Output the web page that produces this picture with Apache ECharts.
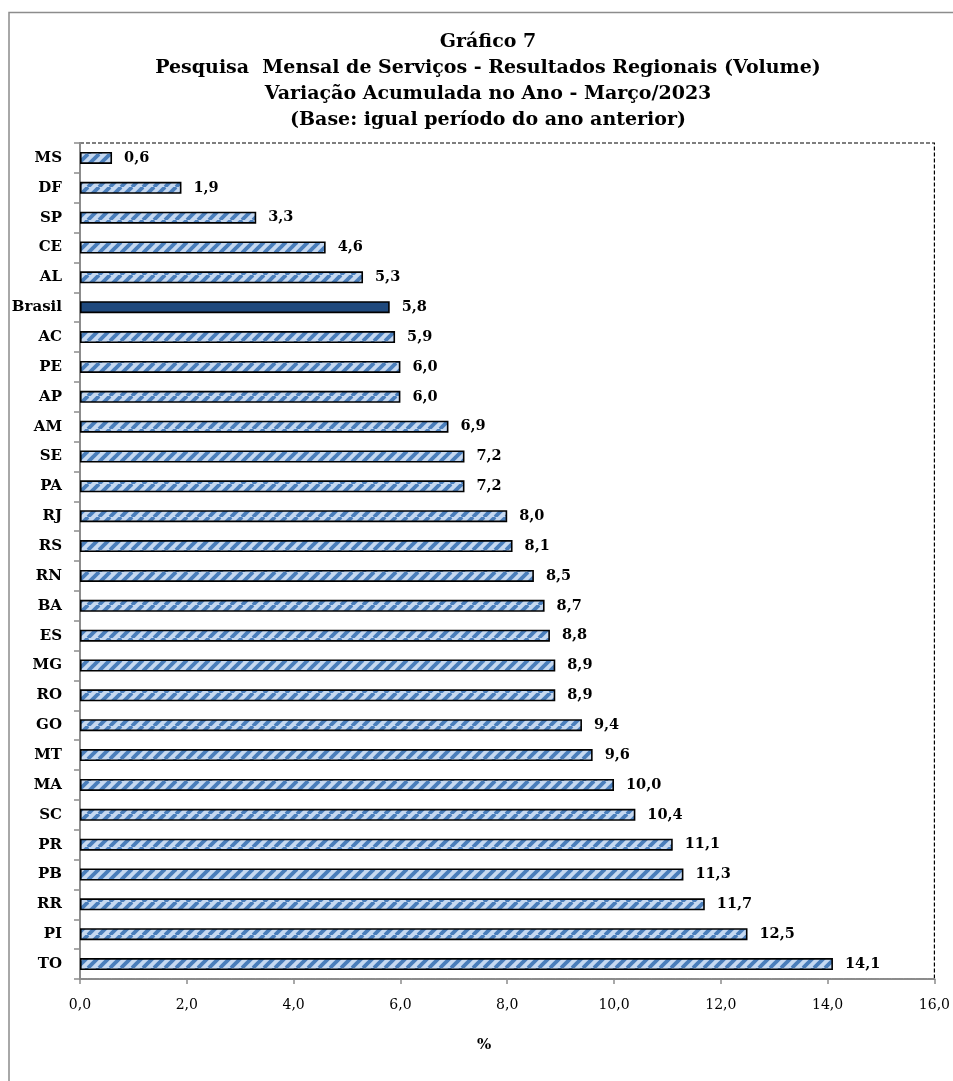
<!DOCTYPE html>
<html>
<head>
<meta charset="utf-8">
<script src="https://cdn.jsdelivr.net/npm/echarts@6/dist/echarts.min.js"></script>
<style>
html,body{margin:0;padding:0;background:#fff;}
#chart{width:953px;height:1081px;}
</style>
</head>
<body>
<div id="chart"></div>
<script>
const categories = ['MS','DF','SP','CE','AL','Brasil','AC','PE','AP','AM','SE','PA','RJ','RS','RN','BA','ES','MG','RO','GO','MT','MA','SC','PR','PB','RR','PI','TO'];
const values = [0.6,1.9,3.3,4.6,5.3,5.8,5.9,6.0,6.0,6.9,7.2,7.2,8.0,8.1,8.5,8.7,8.8,8.9,8.9,9.4,9.6,10.0,10.4,11.1,11.3,11.7,12.5,14.1];
const highlight = 'Brasil';
const titleLines = ['Gráfico 7','Pesquisa  Mensal de Serviços - Resultados Regionais (Volume)','Variação Acumulada no Ano - Março/2023','(Base: igual período do ano anterior)'];
const axisName = '%';

// striped pattern tile
function makePattern(){
  const s = 11;
  const c = document.createElement('canvas');
  c.width = s; c.height = s;
  const g = c.getContext('2d');
  g.fillStyle = '#c6d9f1';
  g.fillRect(0,0,s,s);
  g.strokeStyle = '#4a7ebb';
  g.lineWidth = 3.8;
  g.lineCap = 'butt';
  for (const off of [-s, 0, s]) {
    g.beginPath();
    g.moveTo(off, s);
    g.lineTo(off + s, 0);
    g.stroke();
  }
  return c;
}
const pattern = {image: makePattern(), repeat: 'repeat'};
const fmt = v => v.toFixed(1).replace('.', ',');

const chart = echarts.init(document.getElementById('chart'), null, {renderer:'canvas'});
const serif = 'DejaVu Serif';
chart.setOption({
  backgroundColor: '#fff',
  animation: false,
  title: {
    text: titleLines.join('\n'),
    left: 483, textAlign: 'center', top: 24,
    textStyle: {fontFamily: serif, fontWeight: 'bold', fontSize: 19, lineHeight: 26, color: '#000'}
  },
  graphic: [
    {type:'rect', shape:{x:9, y:12.5, width:1100, height:1200}, style:{fill:'none', stroke:'#8c8c8c', lineWidth:1.5}, silent:true, z:-1},
    {type:'text', left: 477, top: 1038, style:{text: axisName, font: 'bold 15px "DejaVu Serif"', fill:'#000'}}
  ],
  grid: {left: 80, right: 18, top: 143, bottom: 102, show: true, borderColor: '#000', borderWidth: 1.2, borderType: [4,2], backgroundColor: 'transparent'},
  xAxis: {
    type: 'value', min: 0, max: 16, interval: 2,
    axisLine: {show: true, lineStyle: {color: '#8c8c8c', width: 2, type: [3,1]}},
    axisTick: {show: true, length: 5, lineStyle: {color: '#8c8c8c', width: 1.5}},
    splitLine: {show: false},
    axisLabel: {margin: 19, fontFamily: serif, fontSize: 14, color: '#000', formatter: v => fmt(v)}
  },
  yAxis: {
    type: 'category', data: categories, inverse: true,
    axisLine: {show: true, lineStyle: {color: '#8c8c8c', width: 2}},
    axisTick: {show: true, length: 6, lineStyle: {color: '#8c8c8c', width: 1.5}},
    axisLabel: {margin: 18, fontFamily: serif, fontWeight: 'bold', fontSize: 15, color: '#000'}
  },
  series: [{
    type: 'bar',
    barWidth: 12,
    data: values.map((v, i) => ({
      value: v,
      itemStyle: categories[i] === highlight ? {color: '#1f497d', borderColor: '#000', borderWidth: 1.6} : {color: pattern, borderColor: '#000', borderWidth: 1.6}
    })),
    label: {
      show: true, position: 'right', distance: 12,
      fontFamily: serif, fontWeight: 'bold', fontSize: 14.5, color: '#000',
      formatter: p => fmt(p.value)
    }
  }]
});
</script>
</body>
</html>
